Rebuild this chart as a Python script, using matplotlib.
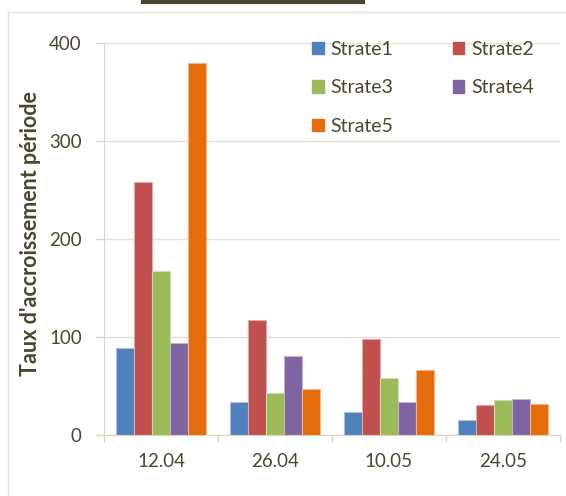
import matplotlib
matplotlib.use("Agg")
import matplotlib.pyplot as plt
from matplotlib.lines import Line2D
from matplotlib.patches import Patch
import numpy as np

categories = ["12.04", "26.04", "10.05", "24.05"]
series_names = ["Strate1", "Strate2", "Strate3", "Strate4", "Strate5"]
strate1 = [89, 34, 23, 15]
strate2 = [258, 117, 98, 31]
strate3 = [167, 43, 58, 36]
strate4 = [94, 81, 34, 37]
strate5 = [380, 47, 66, 32]
series_values = [strate1, strate2, strate3, strate4, strate5]
colors = ["#4f81bd", "#c0504d", "#9bbb59", "#8064a2", "#e46c0a"]
edge_colors = ["#a9c0de", "#e0a8a6", "#cddcac", "#bfb1d0", "#f2b584"]
yticks = [0, 100, 200, 300, 400]

text_color = "#4a4632"
grid_color = "#e3e0d4"
axis_color = "#d9d4bf"

plt.rcParams['font.family'] = ['Lato', 'DejaVu Sans']

fig = plt.figure(figsize=(5.66, 4.96), dpi=100)
W, H = 566, 496
ax = fig.add_axes([104 / W, 1 - 435 / H, (560 - 104) / W, (435 - 43) / H])

x = np.arange(len(categories))
bw = 0.158
n = len(series_values)
handles = []
for i, (vals, c, ec, name) in enumerate(zip(series_values, colors, edge_colors, series_names)):
    offs = (i - (n - 1) / 2) * bw
    ax.bar(x + offs, vals, width=bw, color=c, edgecolor=ec, linewidth=0.8, zorder=3, label=name)
    handles.append(Patch(facecolor=c, edgecolor=c, label=name))

ax.set_xlim(-0.5, len(categories) - 0.5)
ax.set_ylim(0, 400)
ax.set_yticks(yticks)
ax.set_yticklabels([str(v) for v in yticks])
ax.set_xticks(x)
ax.set_xticklabels(categories)
ax.set_xticks(np.arange(-0.5, len(categories)), minor=True)
ax.tick_params(axis='x', which='major', length=0, pad=13, labelsize=13.5, labelcolor=text_color)
ax.tick_params(axis='x', which='minor', length=5, color=axis_color, width=1)
ax.tick_params(axis='y', which='major', length=6, color=axis_color, width=1, pad=10,
               labelsize=13.5, labelcolor=text_color)
ax.yaxis.grid(True, color=grid_color, linewidth=1, zorder=0)
ax.set_axisbelow(True)
for s in ['top', 'right']:
    ax.spines[s].set_visible(False)
ax.spines['left'].set_color(axis_color)
ax.spines['bottom'].set_color(axis_color)

ylab = fig.text(31 / W, 1 - 234 / H, "Taux d'accroissement période", fontsize=15.5,
                fontweight='bold', color=text_color, rotation=90, ha='center', va='center')

order = [0, 2, 4, 1, 3]
leg = fig.legend([handles[i] for i in order], [series_names[i] for i in order],
                 ncol=2, loc='upper left', bbox_to_anchor=(312 / W, 1 - 41 / H),
                 frameon=False, fontsize=14, handlelength=0.6, handleheight=0.6,
                 handletextpad=0.35, columnspacing=3.05, labelspacing=1.1,
                 borderaxespad=0, borderpad=0)
for t in leg.get_texts():
    t.set_color(text_color)

# chart border and top decorative line
fig.add_artist(Line2D([8 / W, 8 / W], [0, 1 - 12 / H], color="#e6e3d6", linewidth=1))
fig.add_artist(Line2D([8 / W, 1], [1 - 12 / H, 1 - 12 / H], color="#e6e3d6", linewidth=1))
fig.add_artist(Line2D([143 / W, 363 / W], [1 - 1.5 / H, 1 - 1.5 / H], color="#4b4632", linewidth=3))

fig.savefig("out.png", dpi=100)
